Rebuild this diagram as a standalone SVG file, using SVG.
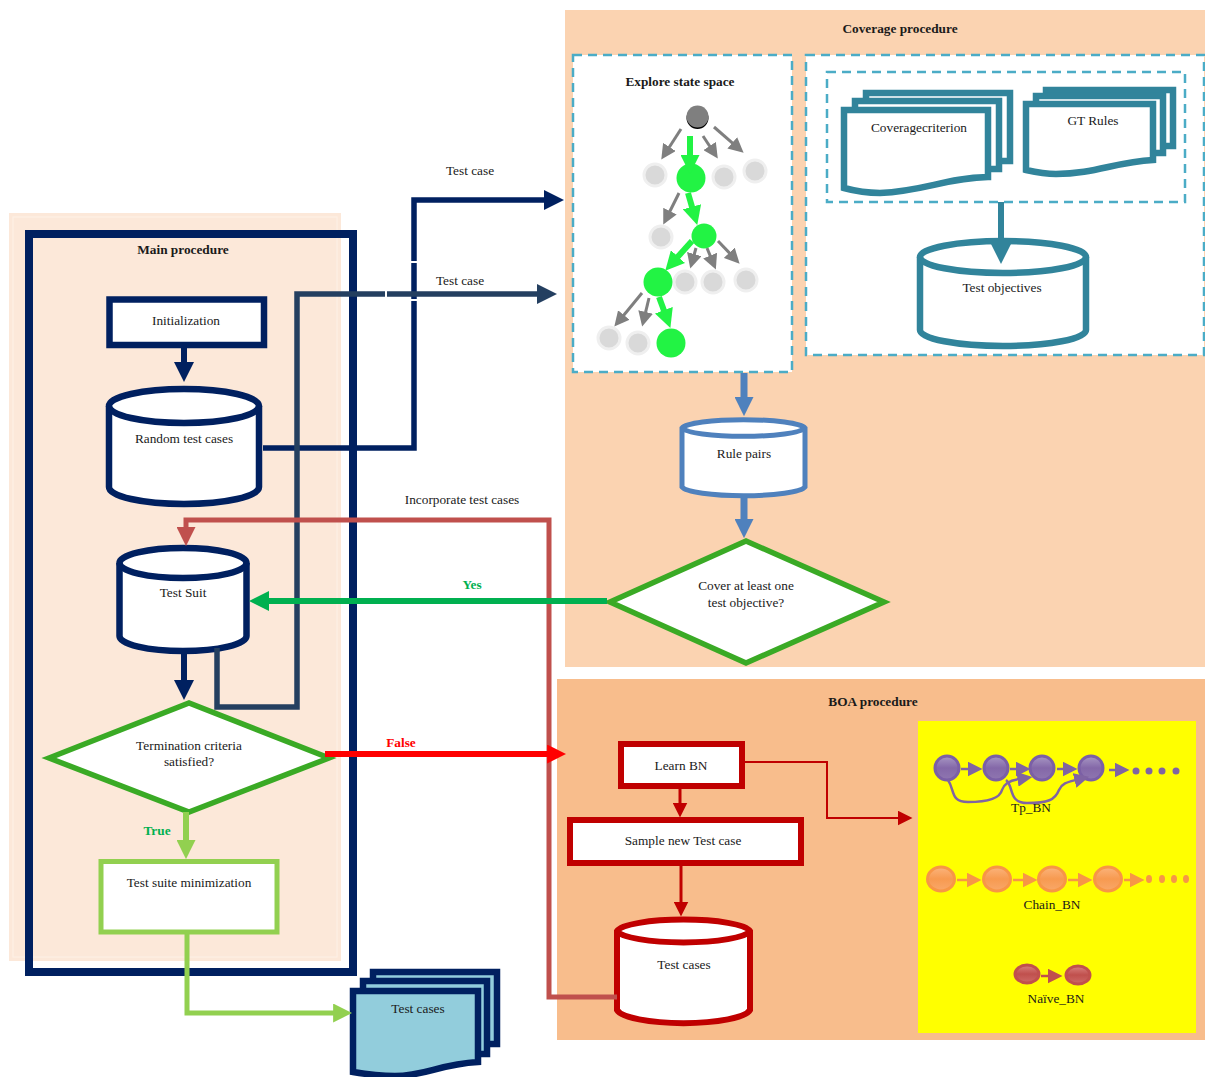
<svg xmlns="http://www.w3.org/2000/svg" width="1205" height="1077" viewBox="0 0 1205 1077">
<style>
text{font-family:"Liberation Serif","Times New Roman",serif;font-size:13.300px;fill:#1a1a1a;text-anchor:middle}
.b{font-weight:bold}
.navy{fill:#fff;stroke:#002060;stroke-width:6.5}
.teal{fill:#fff;stroke:#31849b;stroke-width:6.5}
.dash{stroke:#4bacc6;stroke-width:2.5;stroke-dasharray:9 6;fill:#fff}
.dia{fill:#fff;stroke:#3aaa25;stroke-width:5.5}
.red{fill:#fff;stroke:#c00000;stroke-width:6}
.c{fill:none}
.lg{fill:#d9d9d9;stroke:#efefef;stroke-width:3}
.gn{fill:#22f344}
.pb{fill:url(#gp);stroke:#7b5fa6;stroke-width:3}
.ob{fill:url(#go);stroke:#f79646;stroke-width:3}
.rb{fill:url(#gr);stroke:#c0504d;stroke-width:3}
</style>
<defs>
<linearGradient id="gp" x1="0" y1="0" x2="0" y2="1"><stop offset="0" stop-color="#a898c4"/><stop offset=".5" stop-color="#8468a8"/><stop offset="1" stop-color="#8f76b0"/></linearGradient>
<linearGradient id="go" x1="0" y1="0" x2="0" y2="1"><stop offset="0" stop-color="#fbb47c"/><stop offset=".5" stop-color="#f79a50"/><stop offset="1" stop-color="#f9a86a"/></linearGradient>
<linearGradient id="gr" x1="0" y1="0" x2="0" y2="1"><stop offset="0" stop-color="#d9827f"/><stop offset=".5" stop-color="#c0504d"/><stop offset="1" stop-color="#cd6a67"/></linearGradient>
<marker id="mNavy" viewBox="0 0 10 10" refX="1" refY="5" markerUnits="userSpaceOnUse" markerWidth="20" markerHeight="20" orient="auto"><path d="M0 0L10 5L0 10Z" fill="#002060"/></marker>
<marker id="mSlate" viewBox="0 0 10 10" refX="1" refY="5" markerUnits="userSpaceOnUse" markerWidth="20" markerHeight="20" orient="auto"><path d="M0 0L10 5L0 10Z" fill="#243f60"/></marker>
<marker id="mBrick" viewBox="0 0 10 10" refX="1" refY="5" markerUnits="userSpaceOnUse" markerWidth="19" markerHeight="19" orient="auto"><path d="M0 0L10 5L0 10Z" fill="#c0504d"/></marker>
<marker id="mYes" viewBox="0 0 10 10" refX="1" refY="5" markerUnits="userSpaceOnUse" markerWidth="20" markerHeight="20" orient="auto"><path d="M0 0L10 5L0 10Z" fill="#00b050"/></marker>
<marker id="mFalse" viewBox="0 0 10 10" refX="1" refY="5" markerUnits="userSpaceOnUse" markerWidth="19" markerHeight="19" orient="auto"><path d="M0 0L10 5L0 10Z" fill="#ff0000"/></marker>
<marker id="mLime" viewBox="0 0 10 10" refX="1" refY="5" markerUnits="userSpaceOnUse" markerWidth="19" markerHeight="19" orient="auto"><path d="M0 0L10 5L0 10Z" fill="#92d050"/></marker>
<marker id="mBlue" viewBox="0 0 10 10" refX="1" refY="5" markerUnits="userSpaceOnUse" markerWidth="19" markerHeight="19" orient="auto"><path d="M0 0L10 5L0 10Z" fill="#4f81bd"/></marker>
<marker id="mTeal" viewBox="0 0 10 10" refX="1" refY="5" markerUnits="userSpaceOnUse" markerWidth="20" markerHeight="20" orient="auto"><path d="M0 0L10 5L0 10Z" fill="#31849b"/></marker>
<marker id="mDark" viewBox="0 0 10 10" refX="1" refY="5" markerUnits="userSpaceOnUse" markerWidth="15" markerHeight="15" orient="auto"><path d="M0 0L10 5L0 10Z" fill="#c00000"/></marker>
<marker id="mGray" viewBox="0 0 10 10" refX="1" refY="5" markerUnits="userSpaceOnUse" markerWidth="15" markerHeight="15" orient="auto"><path d="M0 0L10 5L0 10Z" fill="#7f7f7f"/></marker>
<marker id="mGreen" viewBox="0 0 10 10" refX="1" refY="5" markerUnits="userSpaceOnUse" markerWidth="19" markerHeight="19" orient="auto"><path d="M0 0L10 5L0 10Z" fill="#22f344"/></marker>
<marker id="mPur" viewBox="0 0 10 10" refX="1" refY="5" markerUnits="userSpaceOnUse" markerWidth="15" markerHeight="15" orient="auto"><path d="M0 0L10 5L0 10Z" fill="#8064a2"/></marker>
<marker id="mOr" viewBox="0 0 10 10" refX="1" refY="5" markerUnits="userSpaceOnUse" markerWidth="15" markerHeight="15" orient="auto"><path d="M0 0L10 5L0 10Z" fill="#f79646"/></marker>
<marker id="mRd" viewBox="0 0 10 10" refX="1" refY="5" markerUnits="userSpaceOnUse" markerWidth="15" markerHeight="15" orient="auto"><path d="M0 0L10 5L0 10Z" fill="#c0504d"/></marker>
</defs>

<g id="main-panel">
<rect x="9" y="213" width="332" height="748" fill="#fce8d9"/>
<rect x="13" y="217" width="324" height="740" fill="none" stroke="#fdf1e7" stroke-width="1"/>
<rect x="29" y="234" width="324" height="738" fill="none" stroke="#002060" stroke-width="8"/>
<text class="b" x="183" y="254">Main procedure</text>
</g>
<g id="coverage-panel">
<rect x="565" y="10" width="640" height="657" fill="#fbd3b1"/>
<text class="b" x="900" y="33">Coverage procedure</text>
</g>
<g id="boa-panel">
<rect x="557" y="679" width="648" height="361" fill="#f8bd8c"/>
<text class="b" x="873" y="706">BOA procedure</text>
<rect x="918" y="721" width="278" height="312" fill="#ffff00"/>
</g>

<g id="initialization"><rect class="navy" x="109.500" y="299.500" width="154.500" height="45.500"/><text x="186" y="325">Initialization</text></g>
<g id="random-test-cases"><path class="navy" d="M109 406A75 17 0 0 1 259 406V487A75 17 0 0 1 109 487Z"/><path class="navy c" d="M109 406A75 17 0 0 0 259 406"/><text x="184" y="443">Random test cases</text></g>
<g id="test-suit"><path class="navy" d="M119.500 563A63.500 15 0 0 1 246.500 563V636A63.500 15 0 0 1 119.500 636Z"/><path class="navy c" d="M119.500 563A63.500 15 0 0 0 246.500 563"/><text x="183" y="597">Test Suit</text></g>
<g id="termination"><polygon class="dia" points="49,758 189,703 329,758 189,812"/><text x="189" y="750">Termination criteria</text><text x="189" y="766">satisfied?</text></g>
<g id="minimization"><rect x="101" y="861.500" width="176" height="70.500" fill="#fff" stroke="#92d050" stroke-width="5"/><text x="189" y="887">Test suite minimization</text></g>
<g id="test-cases-output" fill="#92cddc" stroke="#002060" stroke-width="6.500">
<rect x="373" y="972" width="124" height="72"/>
<rect x="363" y="981" width="124" height="73"/>
<path d="M353 991H478V1062C440 1064 425 1076 395 1076C378 1076 365 1074 353 1072Z"/>
<text x="418" y="1013" stroke="none">Test cases</text></g>

<g id="explore"><rect class="dash" x="573" y="55" width="219" height="317"/><text class="b" x="680" y="86">Explore state space</text>
<circle cx="697.500" cy="118" r="11" fill="#000"/><circle cx="697.500" cy="116.500" r="11" fill="#7f7f7f"/>
<circle class="lg" cx="655" cy="175" r="11"/><circle class="lg" cx="724" cy="177" r="11"/><circle class="lg" cx="755" cy="171" r="11"/><circle class="lg" cx="661" cy="237" r="11"/><circle class="lg" cx="685" cy="282" r="11"/><circle class="lg" cx="713" cy="282" r="11"/><circle class="lg" cx="746" cy="280" r="11"/><circle class="lg" cx="609" cy="338" r="11"/><circle class="lg" cx="638" cy="343" r="11"/>
<circle class="gn" cx="691" cy="178" r="14.500"/><circle class="gn" cx="704" cy="236" r="12.500"/><circle class="gn" cx="658" cy="282" r="14.500"/><circle class="gn" cx="671" cy="343" r="14.500"/>
<g class="c" stroke="#7f7f7f" stroke-width="3">
<path marker-end="url(#mGray)" d="M681 129L668.600 148.200"/><path marker-end="url(#mGray)" d="M703 136L710.400 147.300"/><path marker-end="url(#mGray)" d="M714 127L733.400 143.800"/><path marker-end="url(#mGray)" d="M679 193L669.300 212.500"/><path marker-end="url(#mGray)" d="M696 248L693.900 255.500"/><path marker-end="url(#mGray)" d="M707 248L710.700 257"/><path marker-end="url(#mGray)" d="M718 241L730.300 253.900"/><path marker-end="url(#mGray)" d="M642 293L622.900 316.200"/><path marker-end="url(#mGray)" d="M649 298L645.300 313.400"/></g>
<g class="c" stroke="#22f344" stroke-width="6">
<path marker-end="url(#mGreen)" d="M690 136V157"/><path marker-end="url(#mGreen)" d="M688 193L692.500 208.600"/><path marker-end="url(#mGreen)" d="M692 241L676.700 258"/><path marker-end="url(#mGreen)" d="M659 297L664.500 312"/></g></g>

<g id="objectives-box"><rect class="dash" x="806" y="55" width="398" height="300"/><rect class="dash" x="827" y="72" width="358" height="130"/></g>
<g id="coverage-criterion"><rect class="teal" x="866" y="93" width="144" height="68"/><rect class="teal" x="855" y="101" width="144" height="68"/><path class="teal" d="M844 110H988V177C945 178 925 191 880 193C865 193 855 191 844 188Z"/><text x="919" y="132">Coveragecriterion</text></g>
<g id="gt-rules"><rect class="teal" x="1046" y="90" width="127" height="56"/><rect class="teal" x="1036" y="96" width="127" height="57"/><path class="teal" d="M1026 104H1153V160C1115 162 1095 174 1056 174C1045 174 1035 172 1026 170Z"/><text x="1093" y="125">GT Rules</text></g>
<g id="test-objectives"><path class="teal" d="M920 257A83 16 0 0 1 1086 257V330A83 16 0 0 1 920 330Z"/><path class="teal c" d="M920 257A83 16 0 0 0 1086 257"/><text x="1002" y="292">Test objectives</text></g>
<g id="rule-pairs" fill="#fff" stroke="#4f81bd" stroke-width="5"><path d="M682 428A62 9.500 0 0 1 805 428V487A62 10 0 0 1 682 487Z"/><path fill="none" d="M682 428A62 9.500 0 0 0 805 428"/><text x="744" y="458" stroke="none">Rule pairs</text></g>
<g id="cover-decision"><polygon class="dia" points="610,602 746,541 884,602 746,663"/><text x="746" y="590">Cover at least one</text><text x="746" y="607">test objective?</text></g>

<g id="learn-bn"><rect class="red" x="621" y="744" width="121" height="42"/><text x="681" y="770">Learn BN</text></g>
<g id="sample"><rect class="red" x="570" y="820" width="231" height="43"/><text x="683" y="845">Sample new Test case</text></g>
<g id="test-cases-boa"><path class="red" d="M617 931A67 13 0 0 1 750 931V1010A67 15 0 0 1 617 1010Z"/><path class="red c" d="M617 931A67 13 0 0 0 750 931"/><text x="684" y="969">Test cases</text></g>

<g id="tp-bn"><ellipse class="pb" cx="947" cy="768" rx="12" ry="12"/><ellipse class="pb" cx="996" cy="768" rx="12" ry="12"/><ellipse class="pb" cx="1042" cy="768" rx="12" ry="12"/><ellipse class="pb" cx="1091" cy="768" rx="12" ry="12"/>
<g fill="#8064a2"><circle cx="1136" cy="771" r="3.500"/><circle cx="1149" cy="771" r="3.500"/><circle cx="1162" cy="771" r="3.500"/><circle cx="1176" cy="771" r="3.500"/></g>
<g class="c" stroke="#8064a2" stroke-width="2.500"><path marker-end="url(#mPur)" d="M961 769H969"/><path marker-end="url(#mPur)" d="M1010 769H1017"/><path marker-end="url(#mPur)" d="M1057 769H1064"/><path marker-end="url(#mPur)" d="M1109 770H1116"/>
<path marker-end="url(#mPur)" d="M948 780C955 790 950 802 968 802C990 802 1000 798 1002 790C1004 783 1012 780 1019 779"/><path marker-end="url(#mPur)" d="M1006 780C1014 786 1008 803 1027 803C1048 803 1055 800 1059 790C1062 783 1068 782 1076 780"/></g>
<text x="1031" y="812">Tp_BN</text></g>
<g id="chain-bn"><ellipse class="ob" cx="941" cy="879" rx="13.500" ry="12"/><ellipse class="ob" cx="997" cy="879" rx="13.500" ry="12"/><ellipse class="ob" cx="1052" cy="879" rx="13.500" ry="12"/><ellipse class="ob" cx="1108" cy="879" rx="13.500" ry="12"/>
<g fill="#f79646"><ellipse cx="1149" cy="879" rx="3" ry="4"/><ellipse cx="1162" cy="879" rx="3" ry="4"/><ellipse cx="1174" cy="879" rx="3" ry="4"/><ellipse cx="1186" cy="879" rx="3" ry="4"/></g>
<g class="c" stroke="#f79646" stroke-width="2.500"><path marker-end="url(#mOr)" d="M957 880H968"/><path marker-end="url(#mOr)" d="M1013 880H1024"/><path marker-end="url(#mOr)" d="M1068 880H1079"/><path marker-end="url(#mOr)" d="M1124 880H1131"/></g>
<text x="1052" y="909">Chain_BN</text></g>
<g id="naive-bn"><ellipse class="rb" cx="1027" cy="974" rx="12" ry="9"/><ellipse class="rb" cx="1078" cy="975" rx="12" ry="9"/><path class="c" stroke="#c0504d" stroke-width="2.500" marker-end="url(#mRd)" d="M1041 976H1049"/><text x="1056" y="1003">Naïve_BN</text></g>

<g id="connectors" fill="none">
<path stroke="#002060" stroke-width="6" marker-end="url(#mNavy)" d="M184 346V364"/>
<path stroke="#002060" stroke-width="5.500" marker-end="url(#mNavy)" d="M263 448H414V200H546"/>
<path stroke="#243f60" stroke-width="5.500" marker-end="url(#mSlate)" d="M217 648V707H297V294H539"/>
<rect x="411" y="261" width="6" height="2" fill="#fff"/><rect x="411" y="299" width="6" height="2" fill="#fff"/><rect x="385" y="290" width="2" height="7" fill="#fff"/>
<path stroke="#c0504d" stroke-width="5" marker-end="url(#mBrick)" d="M617 997H549V520H186V529"/>
<path stroke="#00b050" stroke-width="6" marker-end="url(#mYes)" d="M607 601H267"/>
<path stroke="#ff0000" stroke-width="6" marker-end="url(#mFalse)" d="M325 754H549"/>
<path stroke="#002060" stroke-width="6" marker-end="url(#mNavy)" d="M184 652V682"/>
<path stroke="#92d050" stroke-width="6" marker-end="url(#mLime)" d="M186 812V842"/>
<path stroke="#92d050" stroke-width="5" marker-end="url(#mLime)" d="M187 933V1013H335"/>
<path stroke="#4f81bd" stroke-width="7" marker-end="url(#mBlue)" d="M744 373V399"/>
<path stroke="#4f81bd" stroke-width="7" marker-end="url(#mBlue)" d="M744 498V521"/>
<path stroke="#31849b" stroke-width="6" marker-end="url(#mTeal)" d="M1001 202V246"/>
<path stroke="#c00000" stroke-width="3" marker-end="url(#mDark)" d="M680 787V804"/>
<path stroke="#c00000" stroke-width="3" marker-end="url(#mDark)" d="M681 864V903"/>
<path stroke="#c00000" stroke-width="2" marker-end="url(#mDark)" d="M744 762H827V818H899"/>
</g>
<g id="connector-labels">
<text x="470" y="175">Test case</text><text x="460" y="285">Test case</text><text x="462" y="504">Incorporate test cases</text>
<text class="b" x="472" y="589" style="fill:#00b050">Yes</text><text class="b" x="401" y="747" style="fill:#ff0000">False</text><text class="b" x="157" y="835" style="fill:#00b050">True</text>
</g>
</svg>
